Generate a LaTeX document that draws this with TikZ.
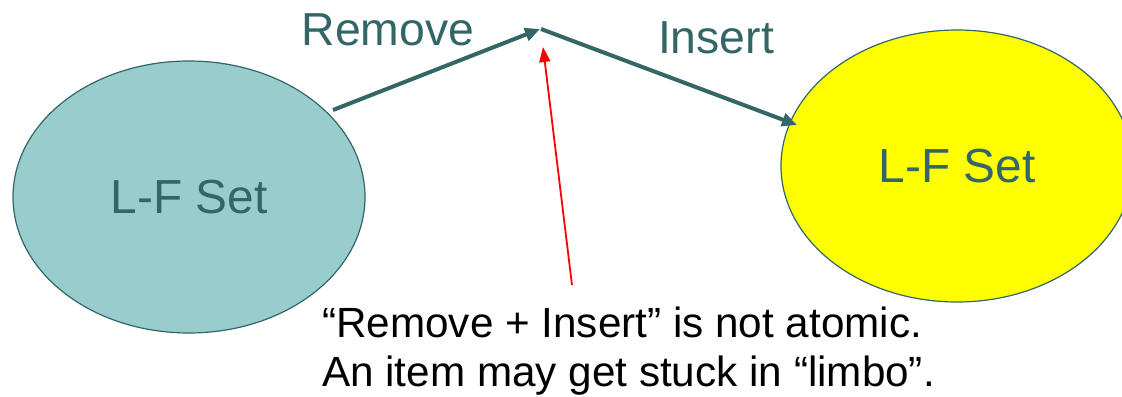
\documentclass[tikz,border=0pt]{standalone}
\usepackage{fontspec}
\setmainfont{Liberation Sans}
\usetikzlibrary{shapes.geometric,arrows.meta}
\definecolor{tealdark}{HTML}{336666}
\definecolor{teallight}{HTML}{99CCCC}
\definecolor{setyellow}{HTML}{FFFF00}
\definecolor{limbored}{HTML}{FF0000}
\tikzset{
  setnode/.style={ellipse, draw=tealdark, line width=1.2bp, minimum width=352bp, minimum height=272bp, inner sep=0pt, text=tealdark, font=\fontsize{48}{56}\selectfont},
  oplabel/.style={text=tealdark, font=\fontsize{46.5}{54}\selectfont, inner sep=0pt, anchor=base},
  oparrow/.style={draw=tealdark, line width=4bp, -{Triangle[length=15bp,width=13bp]}},
  notearrow/.style={draw=limbored, line width=1.8bp, -{Triangle[length=15bp,width=11bp]}},
  notetext/.style={text=black, font=\fontsize{42.4}{49}\selectfont, align=left, inner sep=0pt, anchor=south west}
}
\begin{document}
\begin{tikzpicture}[x=1bp,y=1bp]
\useasboundingbox (0,0) rectangle (1122,396);
\clip (0,0) rectangle (1122,396);
\node[setnode, fill=teallight] (L) at (189,199) {L-F Set};
\node[setnode, fill=setyellow] (R) at (957,230) {L-F Set};
\coordinate (start) at (333,286);
\coordinate (apex) at (540,367);
\coordinate (apex2) at (541,367);
\coordinate (rend) at (797,271);
\coordinate (redtip) at (543,349);
\coordinate (redstart) at (572,111);
\draw[oparrow] (start) -- (apex);
\draw[oparrow] (apex2) -- (rend);
\node[oplabel] (rm) at (388,351) {Remove};
\node[oplabel] (ins) at (716,343) {Insert};
\node[notetext] (note) at (322,0.5) {“Remove + Insert” is not atomic.\\An item may get stuck in “limbo”.};
\draw[notearrow] (redstart) -- (redtip);
\end{tikzpicture}
\end{document}
